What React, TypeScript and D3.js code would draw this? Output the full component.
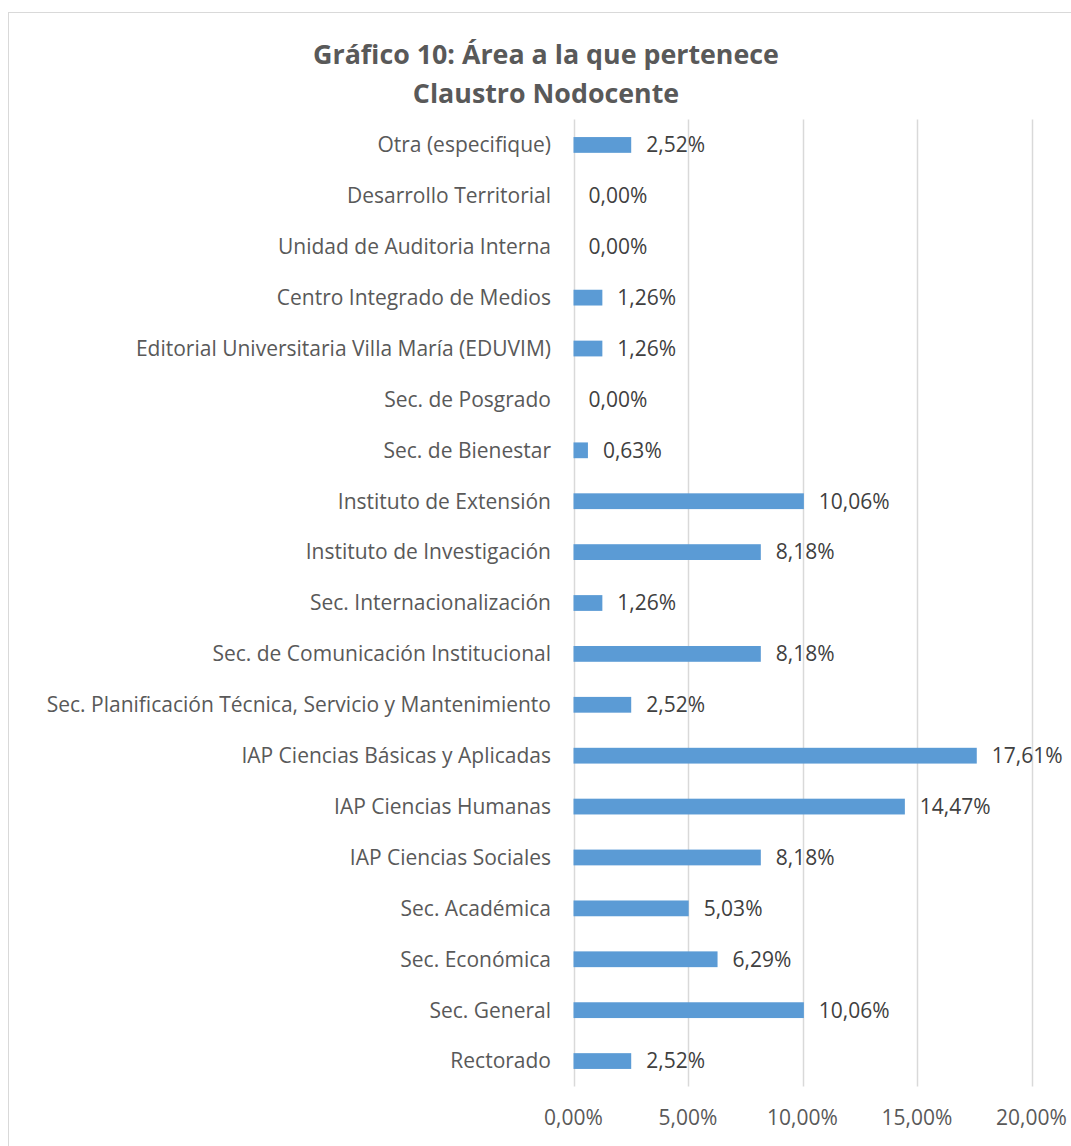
import React from "react";
import * as d3 from "d3";

const categories = [
  "Otra (especifique)",
  "Desarrollo Territorial",
  "Unidad de Auditoria Interna",
  "Centro Integrado de Medios",
  "Editorial Universitaria Villa María (EDUVIM)",
  "Sec. de Posgrado",
  "Sec. de Bienestar",
  "Instituto de Extensión",
  "Instituto de Investigación",
  "Sec. Internacionalización",
  "Sec. de Comunicación Institucional",
  "Sec. Planificación Técnica, Servicio y Mantenimiento",
  "IAP Ciencias Básicas y Aplicadas",
  "IAP Ciencias Humanas",
  "IAP Ciencias Sociales",
  "Sec. Académica",
  "Sec. Económica",
  "Sec. General",
  "Rectorado",
];
const values = [
  2.52, 0.0, 0.0, 1.26, 1.26, 0.0, 0.63, 10.06, 8.18, 1.26, 8.18, 2.52, 17.61,
  14.47, 8.18, 5.03, 6.29, 10.06, 2.52,
];
const ticks = [0, 5, 10, 15, 20];
const titleLines = ["Gráfico 10: Área a la que pertenece", "Claustro Nodocente"];

const fmt = (v: number) => v.toFixed(2).replace(".", ",") + "%";
const FONT = "'Open Sans', 'Noto Sans', sans-serif";

export default function App() {
  const W = 1071;
  const H = 1146;
  const left = 573.5;
  const right = 1031.5;
  const top = 119.5;
  const bottom = 1086.5;
  const x = d3.scaleLinear().domain([0, 20]).range([left, right]);
  const y = d3
    .scaleBand<string>()
    .domain(categories)
    .range([top, bottom])
    .paddingInner(0.69)
    .paddingOuter(0.345);
  const bh = y.bandwidth();
  const fs = 21;
  return (
    <div style={{ position: "absolute", left: 0, top: 0 }}>
      <svg width={W} height={H} style={{ display: "block" }}>
        <rect x={0} y={0} width={W} height={H} fill="#fff" />
        <rect
          x={8.5}
          y={12.5}
          width={1080}
          height={1160}
          fill="#fff"
          stroke="#d9d9d9"
          strokeWidth={1}
        />
        {titleLines.map((t, i) => (
          <text
            key={i}
            x={546}
            y={64 + i * 39}
            textAnchor="middle"
            fontFamily={FONT}
            fontWeight="bold"
            fontSize={26.8}
            fill="#595959"
          >
            {t}
          </text>
        ))}
        {ticks.map((t) => (
          <g key={t}>
            <line
              x1={Math.round(x(t)) + 0.5}
              x2={Math.round(x(t)) + 0.5}
              y1={top}
              y2={bottom}
              stroke="#d9d9d9"
              strokeWidth={1.5}
            />
            <text
              x={x(t)}
              y={1125}
              textAnchor="middle"
              fontFamily={FONT}
              fontSize={fs}
              fill="#595959"
            >
              {fmt(t)}
            </text>
          </g>
        ))}
        {categories.map((c, i) => {
          const yc = (y(c) as number) + bh / 2;
          return (
            <g key={c}>
              <text
                x={551}
                y={yc}
                dy="0.35em"
                textAnchor="end"
                fontFamily={FONT}
                fontSize={fs}
                fill="#595959"
              >
                {c}
              </text>
              {values[i] > 0 && (
                <rect
                  x={x(0)}
                  y={y(c)}
                  width={x(values[i]) - x(0)}
                  height={bh}
                  fill="#5b9bd5"
                />
              )}
              <text
                x={x(values[i]) + 15}
                y={yc}
                dy="0.35em"
                textAnchor="start"
                fontFamily={FONT}
                fontSize={fs}
                fill="#404040"
              >
                {fmt(values[i])}
              </text>
            </g>
          );
        })}
      </svg>
    </div>
  );
}
